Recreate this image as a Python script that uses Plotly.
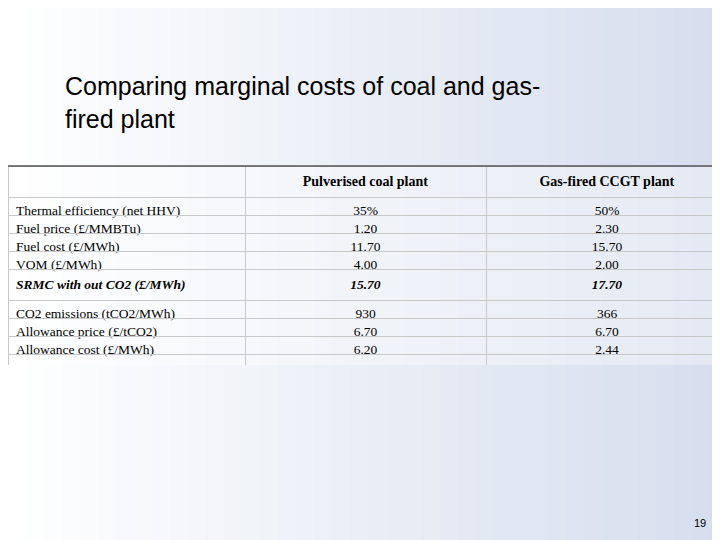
import plotly.graph_objects as go

header = ["", "Pulverised coal plant", "Gas-fired CCGT plant"]
row_labels = ["Thermal efficiency (net HHV)", "Fuel price (£/MMBTu)", "Fuel cost (£/MWh)",
              "VOM (£/MWh)", "SRMC with out CO2 (£/MWh)", "CO2 emissions (tCO2/MWh)",
              "Allowance price (£/tCO2)", "Allowance cost (£/MWh)", "SRMC with CO2 (£/MWh)"]
coal = ["35%", "1.20", "11.70", "4.00", "15.70", "930", "6.70", "6.20", "21.90"]
gas = ["50%", "2.30", "15.70", "2.00", "17.70", "366", "6.70", "2.44", "20.13"]
emph = [False, False, False, False, True, False, False, False, True]

def fmt(v, e):
    return f"<b><i>{v}</i></b>" if e else v

col0 = [fmt(v, e) for v, e in zip(row_labels, emph)]
col1 = [fmt(v, e) for v, e in zip(coal, emph)]
col2 = [fmt(v, e) for v, e in zip(gas, emph)]

top, bottom = 1 - 158 / 540, 1 - 352 / 540

fig = go.Figure(go.Table(
    domain=dict(x=[0, 1], y=[bottom - 0.01, top]),
    columnwidth=[237, 241, 242],
    header=dict(values=[f"<b>{h}</b>" for h in header], align="center", height=20,
                fill_color="rgba(255,255,255,0.35)", line_color="#c8c8c8",
                font=dict(family="Liberation Serif", size=14, color="black")),
    cells=dict(values=[col0, col1, col2], align=["left", "center", "center"], height=18,
               fill_color="rgba(255,255,255,0.35)", line_color="#c8c8c8",
               font=dict(family="Liberation Serif", size=13.5, color="black")),
))

shapes = []
n = 40
for i in range(n):
    t = i / (n - 1)
    r = int(255 - t * (255 - 214)); g = int(255 - t * (255 - 222)); b = int(255 - t * (255 - 238))
    shapes.append(dict(type="rect", xref="paper", yref="paper", x0=i / n, x1=(i + 1) / n + 0.002,
                       y0=0, y1=1, fillcolor=f"rgb({r},{g},{b})", line_width=0, layer="below"))
shapes.append(dict(type="line", xref="paper", yref="paper", x0=0, x1=1, y0=top, y1=top,
                   line=dict(color="#555", width=1.5)))

fig.update_layout(
    width=720, height=540, margin=dict(l=0, r=0, t=0, b=0),
    paper_bgcolor="white", plot_bgcolor="white", shapes=shapes,
    annotations=[
        dict(text="Comparing marginal costs of coal and gas-<br>fired plant", xref="paper", yref="paper",
             x=55 / 720, y=1 - 62 / 540, xanchor="left", yanchor="top", align="left", showarrow=False,
             font=dict(family="Liberation Sans", size=25, color="black")),
        dict(text="19", xref="paper", yref="paper", x=700 / 720, y=1 - 515 / 540, xanchor="right",
             yanchor="middle", showarrow=False, font=dict(family="Liberation Sans", size=11, color="black")),
    ],
)
fig.write_html("out.html")
